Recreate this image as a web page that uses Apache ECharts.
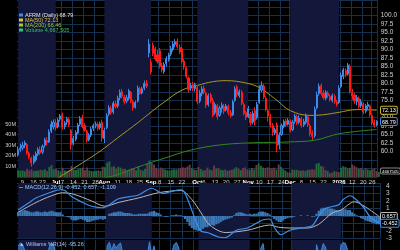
<!DOCTYPE html>
<html><head><meta charset="utf-8">
<script src="https://cdn.jsdelivr.net/npm/echarts@6/dist/echarts.min.js"></script>
<style>html,body{margin:0;padding:0;background:#000;}#c{width:400px;height:250px;}</style>
</head><body><div id="c"></div>
<script>
// ---------- DATA ----------
const monthDays = {
  '2025-06':[5,6,9,10,11,12,13,16,17,18,20,23,24,25,26,27,30],
  '2025-07':[1,2,3,7,8,9,10,11,14,15,16,17,18,21,22,23,24,25,28,29,30,31],
  '2025-08':[1,4,5,6,7,8,11,12,13,14,15,18,19,20,21,22,25,26,27,28,29],
  '2025-09':[2,3,4,5,8,9,10,11,12,15,16,17,18,19,22,23,24,25,26,29,30],
  '2025-10':[1,2,3,6,7,8,9,10,13,14,15,16,17,20,21,22,23,24,27,28,29,30,31],
  '2025-11':[3,4,5,6,7,10,11,12,13,14,17,18,19,20,21,24,25,26,28],
  '2025-12':[1,2,3,4,5,8,9,10,11,12,15,16,17,18,19,22,23,24,26,29,30,31],
  '2026-01':[2,5,6,7,8,9,12,13,14,15,16,20,21,22,23,26,27,28]
};
// [open, close, low, high]
const ohlcJun = [[59.0,60.5,58.5,61.5],[60.5,61.0,59.8,62.3],[61.0,61.8,60.3,62.8],[61.8,62.5,61.0,63.2],[62.0,59.5,59.0,62.5],[59.5,58.3,57.8,60.0],[58.0,56.6,55.5,58.5],[56.8,58.5,56.2,59.0],[57.5,59.3,57.0,60.0],[59.2,60.6,58.6,61.2],[60.4,59.6,59.0,61.5],[59.8,61.5,59.2,62.0],[61.8,63.4,61.2,64.0],[63.2,62.6,61.8,64.2],[62.8,65.8,62.5,66.5],[66.0,68.0,65.4,69.0],[67.2,68.6,66.5,69.4]];
const ohlcJul = [[68.4,67.0,66.2,69.5],[67.2,69.2,66.8,69.8],[69.5,70.4,68.8,71.0],[70.8,67.2,66.4,71.4],[67.4,68.4,66.5,69.0],[68.6,69.6,67.8,70.2],[69.4,67.8,67.2,70.0],[66.2,62.0,60.5,66.6],[62.4,63.8,61.8,64.6],[63.6,65.6,63.0,66.2],[65.4,67.8,65.0,68.4],[68.0,69.6,67.4,70.4],[70.0,67.4,66.8,70.8],[67.6,66.2,65.8,68.4],[66.0,63.2,62.6,66.4],[63.4,64.8,63.0,65.4],[64.8,66.6,64.2,67.2],[66.8,67.6,66.0,68.2],[67.6,68.0,66.8,68.8],[68.0,66.8,66.2,68.6],[67.0,68.2,66.4,68.8],[68.6,64.0,62.8,69.4]];
const ohlcAug = [[63.8,66.2,62.5,67.0],[67.0,70.5,66.6,71.2],[71.0,72.8,70.4,73.6],[72.6,71.4,70.8,73.4],[71.6,74.2,71.0,74.8],[74.0,73.2,72.6,75.0],[73.4,75.6,72.8,76.4],[75.8,77.4,75.0,78.2],[77.6,76.2,75.6,78.4],[76.0,74.6,73.8,76.6],[74.8,75.8,74.2,76.6],[75.6,77.8,75.0,78.4],[77.4,74.8,74.2,77.8],[74.6,72.8,72.0,75.2],[73.0,74.4,72.6,75.0],[74.8,78.6,74.4,79.4],[78.4,77.0,76.6,79.0],[77.2,78.4,76.8,79.0],[78.6,80.0,78.0,80.8],[80.0,79.2,78.6,81.0],[89.0,91.6,87.6,93.0]];
const ohlcSep = [[86.2,83.4,82.6,87.2],[91.2,88.8,88.0,92.0],[90.2,87.2,86.6,90.8],[88.4,86.4,85.8,89.8],[89.6,85.0,84.4,90.4],[85.2,84.0,83.2,86.0],[83.4,85.6,82.8,86.2],[85.8,87.2,85.0,88.0],[87.0,88.4,86.4,89.0],[88.6,90.2,88.0,91.0],[90.0,91.6,89.4,92.4],[91.4,92.2,90.6,93.0],[92.4,90.8,90.2,93.2],[90.6,89.2,88.6,91.4],[90.2,86.4,85.8,90.8],[86.6,84.8,84.0,87.2],[84.6,82.0,81.4,85.0],[81.6,78.2,77.4,82.0],[78.6,79.4,77.8,80.2],[79.6,78.6,77.8,80.4],[78.4,79.6,77.6,80.2]];
const ohlcOct = [[78.8,74.6,73.8,79.4],[74.8,77.2,74.2,78.0],[77.0,78.4,76.2,79.2],[78.6,77.4,76.8,79.4],[77.2,73.6,72.8,77.6],[73.8,76.4,73.2,77.0],[76.6,74.8,74.2,77.2],[75.0,70.6,70.0,75.8],[71.4,73.8,70.8,74.4],[73.4,70.2,69.4,74.0],[70.6,72.8,70.2,73.4],[72.6,73.6,71.4,74.4],[73.2,71.8,71.0,74.0],[72.2,73.4,71.8,74.0],[73.2,71.4,70.6,73.8],[71.4,70.4,69.8,72.2],[70.8,74.6,70.4,75.2],[75.0,78.4,74.6,79.2],[79.0,76.6,76.0,79.6],[76.4,77.6,75.8,78.2],[77.4,74.2,73.6,78.0],[73.8,71.2,70.6,74.4],[71.4,70.0,69.2,72.0]];
const ohlcNov = [[70.2,72.6,69.8,73.4],[71.0,68.4,67.6,71.6],[68.6,71.2,68.0,72.0],[72.0,69.0,67.6,73.0],[70.0,73.8,69.4,74.6],[74.4,78.2,74.0,79.4],[78.0,79.4,77.4,80.6],[79.2,76.0,75.4,79.8],[75.6,72.4,71.8,76.2],[72.0,70.4,68.8,72.6],[70.2,67.8,67.0,71.0],[67.6,65.6,64.6,68.4],[65.4,66.4,64.8,67.0],[67.8,61.6,59.8,68.6],[62.0,64.8,60.6,65.6],[65.0,67.6,64.6,68.2],[67.4,68.8,66.8,69.4],[69.0,67.8,67.2,69.6],[68.0,69.2,67.6,69.8]];
const ohlcDec = [[68.8,66.2,65.6,69.4],[66.4,68.6,66.0,69.2],[68.8,70.4,68.2,71.0],[70.2,68.4,67.8,70.8],[68.6,69.8,68.0,70.6],[69.6,67.6,67.0,70.2],[67.8,68.8,67.2,69.6],[68.6,70.6,68.0,71.2],[70.2,67.8,67.2,70.8],[67.6,65.2,64.4,68.0],[65.4,64.4,63.4,66.2],[64.6,72.4,64.0,73.2],[72.8,76.6,72.4,77.6],[77.0,79.2,76.4,80.0],[79.4,77.0,76.4,80.0],[77.2,75.8,75.2,78.0],[75.6,77.4,75.0,78.0],[77.2,76.4,75.8,77.8],[76.2,75.2,74.6,76.8],[75.0,76.4,74.4,77.0],[76.2,74.6,74.0,76.8],[74.6,73.8,73.2,75.2]];
const ohlcJan = [[74.4,78.6,74.0,79.4],[79.0,82.4,78.6,83.2],[82.0,84.0,81.2,84.6],[83.8,82.6,81.8,84.4],[82.8,85.4,82.4,86.0],[85.0,77.6,77.0,85.6],[77.4,76.4,75.2,78.4],[76.6,74.8,74.0,77.2],[74.6,75.8,73.6,76.6],[75.6,73.2,72.6,76.2],[73.4,74.6,72.8,75.4],[73.8,71.6,71.0,74.4],[71.8,73.4,71.2,74.0],[73.2,73.8,72.4,74.6],[73.4,70.8,70.2,73.8],[70.6,68.4,67.8,71.2],[68.6,67.6,67.0,69.4],[67.8,68.79,67.4,69.2]];
// volume, millions of shares
const volJun = [6.5,5.8,6.2,5.4,7.8,6.1,7.4,5.6,6.0,5.9,6.8,6.4,7.2,5.5,9.5,11.2,7.3];
const volJul = [7.8,6.4,5.2,8.6,6.3,5.8,6.9,10.4,7.1,6.6,7.4,8.2,8.8,6.4,8.9,6.1,5.7,5.3,5.9,6.2,5.6,9.8];
const volAug = [9.2,13.6,14.8,9.4,10.2,8.1,9.6,8.8,7.6,7.9,6.4,7.1,8.3,7.6,6.2,9.9,6.7,6.1,7.8,12.4,15.6];
const volSep = [13.5,11.8,8.6,7.4,8.9,7.8,7.1,6.4,6.0,6.8,7.3,6.9,7.6,8.4,9.1,8.7,9.8,11.6,8.2,7.0,6.6];
const volOct = [9.4,7.6,6.2,6.5,8.8,7.0,6.4,10.8,8.2,8.6,6.9,6.4,7.1,5.9,6.3,6.8,7.9,9.2,8.1,6.5,8.4,8.9,7.2];
const volNov = [7.0,8.6,7.2,11.4,12.8,10.6,8.9,8.3,9.1,8.4,8.0,8.8,6.9,11.9,9.6,7.4,6.2,4.8,3.9];
const volDec = [7.1,6.5,6.8,6.2,5.9,6.4,5.6,6.9,6.7,7.3,7.0,12.6,13.2,10.4,9.8,6.6,5.8,3.6,4.2,5.4,5.0,4.6];
const volJan = [8.8,10.2,9.4,8.1,8.7,11.8,10.6,9.2,7.8,8.4,6.9,8.2,7.1,6.3,7.4,7.9,5.6,4.667505];
// moving averages [date, value]
const ma50Pts = [['2025-07-01',51.6],['2025-07-03',52.6],['2025-07-14',55.0],['2025-07-24',58.3],['2025-08-01',61.0],['2025-08-11',64.0],['2025-08-22',68.4],['2025-08-29',71.0],['2025-09-10',74.5],['2025-09-22',78.0],['2025-10-01',79.4],['2025-10-10',80.5],['2025-10-20',80.8],['2025-10-31',80.1],['2025-11-10',78.8],['2025-11-14',77.0],['2025-11-20',75.0],['2025-12-01',72.0],['2025-12-12',70.6],['2025-12-22',70.8],['2026-01-02',71.5],['2026-01-14',72.3],['2026-01-28',72.13]];
const ma200Pts = [['2025-07-28',51.8],['2025-08-08',53.0],['2025-08-22',55.4],['2025-09-10',58.0],['2025-09-26',60.4],['2025-10-15',61.9],['2025-11-03',62.5],['2025-11-28',62.8],['2025-12-16',63.3],['2026-01-02',65.2],['2026-01-28',66.46]];
// MACD(12,26,9) lines
const macdPts = [['2025-06-05',0.8],['2025-06-12',1.8],['2025-06-17',2.4],['2025-06-27',3.2],['2025-07-03',3.5],['2025-07-08',3.4],['2025-07-11',2.6],['2025-07-18',1.8],['2025-07-24',1.3],['2025-07-31',1.1],['2025-08-05',1.5],['2025-08-11',2.3],['2025-08-22',2.8],['2025-09-02',3.7],['2025-09-09',3.0],['2025-09-12',3.2],['2025-09-19',3.5],['2025-09-23',3.0],['2025-09-30',-0.8],['2025-10-02',-2.0],['2025-10-07',-2.2],['2025-10-14',-2.8],['2025-10-17',-2.9],['2025-10-24',-1.9],['2025-10-31',-1.6],['2025-11-07',-0.8],['2025-11-11',-0.5],['2025-11-14',-0.4],['2025-11-18',-1.5],['2025-11-21',-2.5],['2025-11-28',-1.9],['2025-12-05',-1.6],['2025-12-12',-1.3],['2025-12-17',0.0],['2025-12-22',1.0],['2025-12-31',1.5],['2026-01-05',2.2],['2026-01-08',2.7],['2026-01-12',2.4],['2026-01-16',1.2],['2026-01-22',-0.1],['2026-01-28',-0.95]];
const signalPts = [['2025-06-05',0.5],['2025-06-17',1.8],['2025-06-27',2.7],['2025-07-07',3.1],['2025-07-14',2.9],['2025-07-24',2.0],['2025-08-01',1.3],['2025-08-11',1.8],['2025-08-22',2.4],['2025-09-05',3.1],['2025-09-19',3.4],['2025-09-26',2.2],['2025-10-02',0.5],['2025-10-08',-1.2],['2025-10-17',-2.2],['2025-10-31',-1.9],['2025-11-14',-1.2],['2025-11-20',-1.5],['2025-11-28',-1.6],['2025-12-10',-1.6],['2025-12-17',-1.1],['2025-12-26',0.4],['2026-01-02',0.8],['2026-01-12',1.9],['2026-01-20',1.2],['2026-01-28',-0.05]];
const histJun = [0.5,0.6,0.7,0.8,0.7,0.6,0.5,0.5,0.6,0.6,0.5,0.5,0.6,0.5,0.6,0.7,0.6];
const histJul = [0.5,0.5,0.5,0.2,0.0,-0.1,-0.2,-0.5,-0.6,-0.6,-0.5,-0.4,-0.5,-0.6,-0.8,-0.8,-0.7,-0.6,-0.5,-0.5,-0.4,-0.5];
const histAug = [-0.4,0.0,0.3,0.4,0.5,0.5,0.6,0.6,0.5,0.4,0.4,0.4,0.3,0.2,0.2,0.3,0.3,0.3,0.3,0.3,0.5];
const histSep = [0.6,0.7,0.5,0.4,0.2,0.0,-0.1,-0.1,0.0,0.1,0.1,0.2,0.1,0.1,-0.1,-0.4,-0.8,-1.3,-1.6,-1.8,-1.9];
const histOct = [-2.0,-1.9,-1.7,-1.5,-1.5,-1.3,-1.2,-1.3,-1.1,-1.0,-0.8,-0.6,-0.5,-0.4,-0.3,-0.2,0.1,0.4,0.5,0.5,0.4,0.3,0.2];
const histNov = [0.3,0.2,0.3,0.3,0.5,0.6,0.6,0.5,0.4,0.2,-0.1,-0.4,-0.6,-0.8,-0.8,-0.6,-0.4,-0.3,-0.2];
const histDec = [-0.2,-0.1,0.0,0.0,0.1,0.0,0.0,0.1,0.0,-0.1,-0.1,0.3,0.7,1.0,1.1,1.1,1.1,1.0,1.0,0.9,0.8,0.7];
const histJan = [0.8,0.9,0.9,0.8,0.8,0.5,0.3,0.1,-0.1,-0.3,-0.4,-0.6,-0.7,-0.8,-0.9,-1.0,-1.1,-1.109];
// Williams %R (14)
const wrJun = [-10,-5,-8,-18,-45,-62,-88,-66,-50,-35,-42,-30,-22,-28,-12,-5,-9];
const wrJul = [-24,-19,-21,-38,-33,-28,-40,-92,-78,-58,-38,-24,-46,-56,-82,-66,-48,-40,-35,-50,-40,-85];
const wrAug = [-62,-10,-4,-18,-6,-14,-8,-5,-24,-36,-30,-22,-40,-55,-42,-21,-30,-24,-20,-26,-3];
const wrSep = [-25,-10,-28,-35,-45,-55,-42,-32,-26,-22,-8,-4,-12,-30,-48,-64,-80,-95,-85,-88,-82];
const wrOct = [-95,-75,-65,-70,-90,-75,-85,-98,-80,-92,-78,-70,-75,-68,-78,-85,-55,-28,-40,-32,-52,-72,-82];
const wrNov = [-62,-82,-62,-76,-42,-14,-6,-32,-56,-68,-82,-90,-82,-98,-80,-62,-52,-58,-48];
const wrDec = [-65,-50,-35,-48,-40,-55,-48,-32,-50,-70,-78,-8,-22,-20,-6,-12,-28,-32,-36,-30,-38,-42];
const wrJan = [-8,-4,-6,-18,-22,-40,-55,-65,-58,-72,-65,-80,-70,-68,-85,-92,-98,-95.26];
// tick labels of the date axis
const xLabels = {'2025-06-09':'9','2025-06-16':'16','2025-06-23':'23','2025-07-01':'Jul','2025-07-07':'7','2025-07-14':'14','2025-07-21':'21','2025-07-28':'28','2025-08-01':'Aug','2025-08-11':'11','2025-08-18':'18','2025-08-25':'25','2025-09-02':'Sep','2025-09-08':'8','2025-09-15':'15','2025-09-22':'22','2025-10-01':'Oct','2025-10-06':'6','2025-10-13':'13','2025-10-20':'20','2025-10-27':'27','2025-11-03':'Nov','2025-11-10':'10','2025-11-17':'17','2025-11-24':'24','2025-12-01':'Dec','2025-12-08':'8','2025-12-15':'15','2025-12-22':'22','2026-01-02':'2026','2026-01-12':'12','2026-01-20':'20','2026-01-26':'26'};
const boldLabels = ['Jul','Aug','Sep','Oct','Nov','Dec','2026'];
const shadedMonths = [['2025-06-05','2025-07-01'],['2025-08-01','2025-09-02'],['2025-10-01','2025-11-03'],['2025-12-01','2026-01-02']];
const legendTexts = [['AFRM (Daily) 68.79','#e6e6e6','#3f8ae8'],['MA(50) 72.13','#d9c43a','#d9c43a'],['MA(200) 66.46','#9ccc3a','#9ccc3a'],['Volume 4,667,505','#3fbf6a','#3fbf6a']];
const macdTitle = 'MACD(12,26,9) -0.452, 0.657, -1.109';
const macdBoxTexts = ['0.657', '-0.452'];
const wrTitle = 'Williams %R(14) -95.26';

// ---------- BUILD ----------
const dates = [];
for (const m in monthDays) for (const d of monthDays[m]) dates.push(m + '-' + String(d).padStart(2, '0'));
const ohlc = [].concat(ohlcJun, ohlcJul, ohlcAug, ohlcSep, ohlcOct, ohlcNov, ohlcDec, ohlcJan);
const vol = [].concat(volJun, volJul, volAug, volSep, volOct, volNov, volDec, volJan);
const hist = [].concat(histJun, histJul, histAug, histSep, histOct, histNov, histDec, histJan);
const wr = [].concat(wrJun, wrJul, wrAug, wrSep, wrOct, wrNov, wrDec, wrJan);

const weekStart = new Set();
dates.forEach((d, i) => {
  if (i === 0) return;
  const a = new Date(dates[i - 1] + 'T12:00:00Z').getUTCDay();
  const b = new Date(d + 'T12:00:00Z').getUTCDay();
  if (b < a) weekStart.add(d);
});

const GRID = '#16314f';
const NAVY = '#13183b';
const FONT = 'Liberation Sans';
const L = 17, R = 20;
const grids = [
  {left: L, right: R, top: 0, height: 177},
  {left: L, right: R, top: 124, height: 53},
  {left: L, right: R, top: 183, height: 55.5},
  {left: L, right: R, top: 240, bottom: 0}
];
function xAx(i, labels) {
  return {
    type: 'category', gridIndex: i, data: dates, boundaryGap: true,
    axisLine: {show: false}, axisTick: {show: false},
    axisLabel: labels ? {
      interval: (idx, v) => v in xLabels,
      formatter: v => boldLabels.includes(xLabels[v]) ? '{b|' + xLabels[v] + '}' : xLabels[v],
      color: '#cfcfcf', fontSize: 6, fontFamily: FONT, margin: 2, hideOverlap: false,
      rich: {b: {fontWeight: 'bold', color: '#ffffff', fontSize: 6, fontFamily: FONT}}
    } : {show: false},
    splitLine: {show: i !== 1, interval: (idx, v) => weekStart.has(v), lineStyle: {color: GRID, width: 1}}
  };
}
function shade(xi, yi) {
  return {
    type: 'line', xAxisIndex: xi, yAxisIndex: yi, data: [], z: -1, silent: true,
    markArea: {silent: true, itemStyle: {color: NAVY}, data: shadedMonths.map(p => [{xAxis: p[0]}, {xAxis: p[1]}])}
  };
}
const option = {
  backgroundColor: '#000',
  animation: false,
  grid: grids,
  xAxis: [xAx(0, true), xAx(1, false), xAx(2, false), xAx(3, false)],
  yAxis: [
    {type: 'value', gridIndex: 0, position: 'right', min: 52.5, max: 104.5, interval: 2.5,
     axisLine: {show: false}, axisTick: {show: false},
     axisLabel: {color: '#cfcfcf', fontSize: 6.5, fontFamily: FONT, margin: 3,
       formatter: v => (v >= 59.9 && v <= 100.1) ? v.toFixed(1) : ''},
     splitLine: {lineStyle: {color: GRID, width: 1}}},
    {type: 'value', gridIndex: 1, position: 'left', min: 0, max: 50, interval: 10,
     axisLine: {show: false}, axisTick: {show: false}, splitLine: {show: false},
     axisLabel: {color: '#cfcfcf', fontSize: 5.5, fontFamily: FONT, margin: 1, formatter: v => v > 0 ? v + 'M' : ''}},
    {type: 'value', gridIndex: 2, position: 'right', min: -3, max: 4.4, interval: 1,
     axisLine: {show: false}, axisTick: {show: false},
     axisLabel: {color: '#cfcfcf', fontSize: 6.5, fontFamily: FONT, margin: 6},
     splitLine: {lineStyle: {color: GRID, width: 1}}},
    {type: 'value', gridIndex: 3, position: 'right', min: -17, max: 0,
     axisLine: {show: false}, axisTick: {show: false}, axisLabel: {show: false},
     splitLine: {show: false}}
  ],
  series: [
    shade(0, 0), shade(2, 2), shade(3, 3),
    {type: 'bar', xAxisIndex: 1, yAxisIndex: 1, barWidth: '85%', z: 1,
     data: vol.map((v, i) => ({value: v, itemStyle: {color: ohlc[i][1] >= ohlc[i][0] ? '#1f6b3c' : '#6a3a45'}}))},
    {type: 'line', xAxisIndex: 0, yAxisIndex: 0, data: ma200Pts, smooth: 0.4, showSymbol: false,
     lineStyle: {color: '#2f8a1c', width: 1}, z: 3},
    {type: 'line', xAxisIndex: 0, yAxisIndex: 0, data: ma50Pts, smooth: 0.4, showSymbol: false,
     lineStyle: {color: '#a8981e', width: 1}, z: 3},
    {type: 'candlestick', xAxisIndex: 0, yAxisIndex: 0, data: ohlc, barWidth: 1.6, z: 4,
     itemStyle: {color: '#1d4f96', color0: '#ff1a1a', borderColor: '#3f8ae8', borderColor0: '#ff1a1a', borderWidth: 1}},
    {type: 'bar', xAxisIndex: 2, yAxisIndex: 2, data: hist, barWidth: '100%', z: 2,
     itemStyle: {color: '#3a78b6'}},
    {type: 'line', xAxisIndex: 2, yAxisIndex: 2, data: signalPts, smooth: 0.3, showSymbol: false,
     lineStyle: {color: '#b9b9b9', width: 1}, z: 3},
    {type: 'line', xAxisIndex: 2, yAxisIndex: 2, data: macdPts, smooth: 0.3, showSymbol: false,
     lineStyle: {color: '#3c90ea', width: 1.2}, z: 4},
    {type: 'line', xAxisIndex: 3, yAxisIndex: 3, data: wr, showSymbol: false, clip: true,
     lineStyle: {color: '#3c86d8', width: 1}, areaStyle: {color: '#2f6cb0', opacity: 0.9, origin: 'start'}, z: 3}
  ]
};
const chart = echarts.init(document.getElementById('c'), null, {renderer: 'canvas'});
chart.setOption(option);

// legend / titles / value boxes
const gfx = [];
legendTexts.forEach((t, k) => {
  gfx.push({type: 'rect', x: 19, y: 13.5 + k * 5, shape: {x: 0, y: 0, width: 4, height: 3}, style: {fill: t[2]}, z: 40});
  gfx.push({type: 'text', x: 25, y: 12.5 + k * 5, z: 40,
    style: {text: t[0], fill: t[1], fontSize: 5.5, fontFamily: FONT}});
});
gfx.push({type: 'rect', x: 19, y: 187, shape: {x: 0, y: 0, width: 4, height: 1}, style: {fill: '#3c90ea'}, z: 40});
gfx.push({type: 'text', x: 25, y: 184.5, z: 40, style: {text: macdTitle, fill: '#9fc8ff', fontSize: 5.5, fontFamily: FONT}});
gfx.push({type: 'text', x: 19, y: 241, z: 40, style: {text: '\u25B2 ' + wrTitle, fill: '#9fc8ff', fontSize: 5.5, fontFamily: FONT}});
function box(yIdx, value, text, border, fs) {
  const y = chart.convertToPixel({yAxisIndex: yIdx}, value);
  gfx.push({type: 'text', x: 381, y: y - 3.5, z: 50,
    style: {text: text, fill: '#ffffff', fontSize: fs || 5.5, fontFamily: FONT, backgroundColor: '#000', borderColor: border,
      borderWidth: 1, borderRadius: 1, padding: [1, 1, 0, 1]}});
}
box(0, ma50Pts[ma50Pts.length - 1][1], ma50Pts[ma50Pts.length - 1][1].toFixed(2), '#c8b428');
box(0, ohlc[ohlc.length - 1][1], ohlc[ohlc.length - 1][1].toFixed(2), '#3f8ae8');
box(1, vol[vol.length - 1], String(Math.round(vol[vol.length - 1] * 1e6)), '#888888', 4.3);
box(2, signalPts[signalPts.length - 1][1], macdBoxTexts[0], '#bbbbbb');
box(2, macdPts[macdPts.length - 1][1], macdBoxTexts[1], '#3c90ea');
chart.setOption({graphic: gfx});
</script>
</body></html>
